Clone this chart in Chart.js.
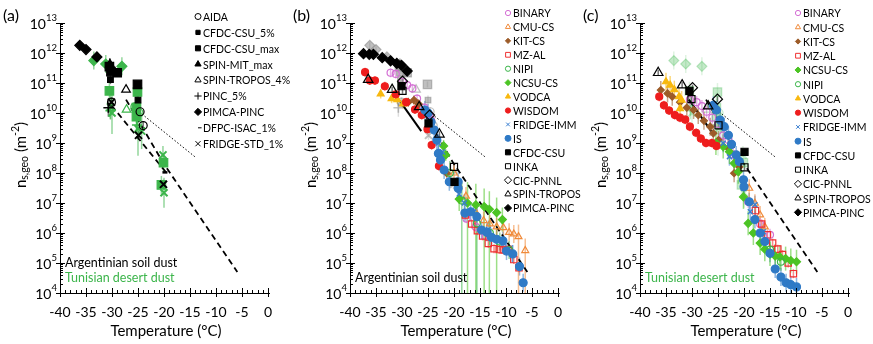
<!DOCTYPE html>
<html>
<head>
<meta charset="utf-8">
<script src="https://cdn.jsdelivr.net/npm/chart.js@4.4.1/dist/chart.umd.min.js"></script>
<style>
  body { margin: 0; background: #fff; }
  canvas { position: absolute; top: 0; }
</style>
</head>
<body>
<canvas id="ca" style="left:0" width="300" height="344"></canvas>
<canvas id="cb" style="left:290px" width="300" height="344"></canvas>
<canvas id="cc" style="left:580px" width="293" height="344"></canvas>
<script>
const FONT = 'Lato, "Open Sans", sans-serif';
const X_TICKS = [-40, -35, -30, -25, -20, -15, -10, -5, 0];
const Y_EXP = [4, 5, 6, 7, 8, 9, 10, 11, 12, 13];

// reference lines (T in degC, ns in m-2)
const DASH_T = [-27.3, -20.1, -5.9];
const DASH_N = [2.8e10, 2.1e8, 5.0e4];
const DOT_T = [-25.3, -13.8];
const DOT_N = [1.3e10, 3.2e8];
const FITA_T = [-30.1, -19.5];
const FITA_N = [1.8e10, 1.0e8];
const FITBC_T = [-30.6, -26.3];
const FITBC_N = [2.8e10, 2.5e9];

// panel (a) - Argentinian soil dust (black)
const A_AIDA_T = [-30.1, -24.6, -24.0];
const A_AIDA_N = [2.3e10, 1.1e10, 3.8e9];
const A_CFDC5_T = [-30.3, -25.0];
const A_CFDC5_N = [1.3e11, 2.7e10];
const A_CFDCMAX_T = [-30.5, -30.2, -29.0, -25.1];
const A_CFDCMAX_N = [3.5e11, 2.4e11, 2.2e11, 9.0e10];
const A_SPINMIT_T = [-30.4];
const A_SPINMIT_N = [4.2e11];
const A_SPINTR_T = [-27.3];
const A_SPINTR_N = [6.0e10];
const A_PINC_T = [-30.7];
const A_PINC_N = [1.5e10];
const A_PIMCA_T = [-36.2, -35.0, -32.9];
const A_PIMCA_N = [1.8e12, 1.3e12, 7.4e11];
const A_DFPC_T = [-20.3];
const A_DFPC_N = [1.05e8];
const A_FRIDGE_T = [-30.1, -24.9, -20.1];
const A_FRIDGE_N = [2.3e10, 1.8e9, 4.2e7];

// panel (a) - Tunisian desert dust (green)
const T_AIDA_T = [-25.6, -24.8];
const T_AIDA_N = [1.6e10, 1.0e10];
const T_CFDC_T = [-30.5, -25.1, -25.3, -25.3, -20.1, -20.5];
const T_CFDC_N = [5.5e10, 5.0e10, 1.5e10, 7.5e9, 2.2e8, 4.0e7];
const T_SPINTR_T = [-27.2];
const T_SPINTR_N = [1.3e10];
const T_PINC_T = [-30.3, -25.2];
const T_PINC_N = [1.2e10, 4.0e9];
const T_PIMCA_T = [-33.5, -31.2, -28.1];
const T_PIMCA_N = [5.6e11, 4.3e11, 3.6e11];
const T_FRIDGE_T = [-30.0, -30.3, -25.0, -24.3, -20.2, -20.0];
const T_FRIDGE_N = [1.0e10, 1.6e10, 3.0e9, 2.5e9, 4.0e8, 2.2e7];

// panel (b) - Argentinian soil dust
const B_BINARY_T = [-32.2, -31.2, -29.9, -29.0, -28.0, -27.1, -25.7, -24.7, -24.4, -17.6, -15.8, -13.9];
const B_BINARY_N = [2.2e11, 2.0e11, 1.1e11, 8.5e10, 6.6e10, 3.0e10, 1.5e10, 8.5e9, 5.8e9, 3.0e6, 1.6e6, 8.0e5];
const B_CMU_T = [-20.0, -19.2, -17.7, -15.8, -14.3, -13.1, -11.8, -10.5, -9.4, -8.5, -7.6, -6.3];
const B_CMU_N = [1.0e8, 4.2e7, 1.7e7, 4.8e6, 2.6e6, 2.0e6, 1.6e6, 1.5e6, 1.05e6, 9.3e5, 7.6e5, 2.6e5];
const B_KIT_T = [-28.8, -27.7, -26.8, -21.4];
const B_KIT_N = [2.3e10, 2.7e10, 2.0e10, 9.8e7];
const B_MZ_T = [-17.8, -16.6, -15.5, -14.5, -13.4, -12.3, -11.3, -10.4, -9.6, -8.5, -7.5];
const B_MZ_N = [4.0e6, 2.0e6, 1.2e6, 8.0e5, 4.5e5, 3.0e5, 2.8e5, 2.7e5, 2.8e5, 1.3e5, 7.0e4];
const B_NIPI_T = [-20.8, -18.5, -15.6, -13.1, -11.2, -9.4];
const B_NIPI_N = [1.0e8, 1.2e7, 2.1e6, 1.0e6, 5.2e5, 2.7e5];
const B_NCSU_T = [-22.0, -21.6, -19.0, -17.4, -15.8, -14.2, -13.2, -11.8, -10.7];
const B_NCSU_N = [8.0e8, 4.0e8, 1.35e7, 1.0e7, 8.7e6, 7.6e6, 6.2e6, 4.8e6, 2.8e6];
const B_VODCA_T = [-34.1, -32.0, -30.9, -29.8];
const B_VODCA_N = [4.3e10, 3.0e10, 2.8e10, 2.0e10];
const B_WISDOM_T = [-37.1, -36.2, -35.2, -33.3, -31.2, -29.2, -27.5, -26.2, -25.1, -24.3, -22.9];
const B_WISDOM_N = [2.3e11, 1.2e11, 1.2e11, 7.8e10, 4.2e10, 2.3e10, 1.3e10, 8.5e9, 2.9e9, 8.5e8, 1.7e8];
const B_FRIDGE_T = [-23.0, -22.2, -19.0, -18.0, -16.2, -13.4, -10.5, -8.8];
const B_FRIDGE_N = [1.0e9, 5.0e8, 2.0e7, 1.0e7, 5.0e6, 1.3e6, 4.6e5, 2.0e5];
const B_IS_T = [-25.6, -25.0, -24.4, -23.8, -23.3, -23.0, -22.6, -21.9, -20.9, -19.2, -19.2, -17.9, -16.8, -15.6, -14.7, -13.7, -12.8, -11.8, -10.6, -9.9, -8.7, -7.4, -6.7];
const B_IS_N = [1.26e10, 1.0e10, 5.0e9, 2.7e9, 1.26e9, 4.5e8, 2.7e8, 1.26e8, 5.1e7, 5.1e7, 3.1e7, 4.6e6, 5.1e6, 3.5e6, 1.26e6, 1.05e6, 7.2e5, 6.2e5, 5.5e5, 2.5e5, 2.0e5, 7.6e4, 2.2e4];
const B_CFDC_T = [-30.1, -24.9, -19.9];
const B_CFDC_N = [7.8e10, 4.5e9, 5.1e7];
const B_INKA_T = [-29.9, -20.0];
const B_INKA_N = [5.5e10, 1.6e8];
const B_CIC_T = [-29.9, -24.7];
const B_CIC_N = [1.15e11, 8.5e9];
const B_SPIN_T = [-36.5, -31.9, -26.7, -22.8];
const B_SPIN_N = [1.3e11, 6.0e10, 1.6e10, 1.95e9];
const B_PIMCA_T = [-37.4, -36.3, -35.5, -33.8, -32.2, -31.0, -30.1, -29.0];
const B_PIMCA_N = [9.5e11, 9.0e11, 9.0e11, 7.0e11, 5.5e11, 4.5e11, 3.9e11, 2.5e11];

// panel (c) - Tunisian desert dust
const C_BINARY_T = [-30.4, -29.1, -28.1, -27.2, -26.1, -24.9, -24.0, -23.0, -22.1, -19.2, -16.9, -15.0];
const C_BINARY_N = [2.8e10, 2.3e10, 1.7e10, 1.1e10, 7.0e9, 4.3e9, 1.8e9, 1.26e9, 4.2e8, 1.1e7, 2.0e6, 8.7e5];
const C_CMU_T = [-19.0, -17.9, -16.9, -16.0];
const C_CMU_N = [3.1e7, 9.8e6, 4.0e6, 1.6e6];
const C_KIT_T = [-36.0, -34.7, -33.8, -32.3, -31.0, -29.7, -28.8, -27.7, -26.5, -25.9, -24.9, -23.0, -21.9, -20.9];
const C_KIT_N = [5.8e10, 4.5e10, 3.5e10, 2.3e10, 1.5e10, 1.26e10, 8.5e9, 5.5e9, 3.5e9, 2.1e9, 1.26e9, 6.6e8, 9.8e7, 1.6e8];
const C_MZ_T = [-17.8, -16.6, -15.5, -14.5, -13.5, -12.6, -11.5, -10.5];
const C_MZ_N = [5.6e6, 2.0e6, 8.7e5, 4.6e5, 2.9e5, 1.9e5, 1.0e5, 4.4e4];
const C_NCSU_T = [-25.4, -24.0, -22.8, -21.9, -21.1, -20.1, -19.2, -18.2, -16.9, -16.0, -15.0, -14.0, -13.1, -12.0, -11.0, -9.9];
const C_NCSU_N = [1.0e9, 7.6e8, 5.1e8, 2.1e8, 1.1e8, 1.6e7, 2.1e6, 1.0e6, 4.6e5, 2.9e5, 2.0e5, 1.7e5, 1.6e5, 1.4e5, 1.2e5, 1.1e5];
const C_NIPI_T = [-15.0, -12.9];
const C_NIPI_N = [2.8e5, 1.1e5];
const C_VODCA_T = [-35.0, -34.2, -33.4, -32.5, -32.0, -32.3];
const C_VODCA_N = [1.1e11, 8.5e10, 6.0e10, 3.5e10, 2.7e10, 1.4e10];
const C_WISDOM_T = [-36.3, -35.4, -34.4, -33.3, -32.3, -31.3, -30.4, -29.2, -28.3, -27.3, -26.2, -25.3];
const C_WISDOM_N = [3.5e10, 1.8e10, 1.2e10, 8.5e9, 7.0e9, 6.0e9, 3.5e9, 2.2e9, 1.4e9, 1.0e9, 1.0e9, 8.0e8];
const C_FRIDGE_T = [-24.0, -22.8, -20.1, -18.8, -17.9, -16.3];
const C_FRIDGE_N = [9.8e8, 3.5e8, 3.1e7, 5.1e6, 8.7e6, 1.1e6];
const C_IS_T = [-25.9, -25.3, -24.6, -23.8, -23.0, -22.4, -21.5, -20.9, -20.1, -20.0, -19.0, -17.9, -16.9, -16.0, -15.0, -14.0, -12.9, -11.9, -11.0, -9.9];
const C_IS_N = [1.8e10, 1.26e10, 5.8e9, 3.5e9, 1.8e9, 9.0e8, 4.0e8, 2.4e8, 5.9e7, 3.5e7, 1.1e7, 2.8e6, 1.0e6, 5.2e5, 2.1e5, 6.3e4, 3.4e4, 2.2e4, 1.9e4, 1.6e4];
const C_CFDC_T = [-30.5, -19.9];
const C_CFDC_N = [5.5e10, 5.1e8];
const C_INKA_T = [-30.1, -24.9, -19.9];
const C_INKA_N = [2.9e10, 3.9e9, 1.55e8];
const C_CIC_T = [-29.9, -25.1];
const C_CIC_N = [7.0e10, 2.9e10];
const C_SPIN_T = [-36.5, -31.9, -26.9];
const C_SPIN_N = [2.2e11, 8.5e10, 1.7e10];

const LEG_A = ['AIDA', 'CFDC-CSU_5%', 'CFDC-CSU_max', 'SPIN-MIT_max', 'SPIN-TROPOS_4%', 'PINC_5%', 'PIMCA-PINC', 'DFPC-ISAC_1%', 'FRIDGE-STD_1%'];
const LEG_B = ['BINARY', 'CMU-CS', 'KIT-CS', 'MZ-AL', 'NIPI', 'NCSU-CS', 'VODCA', 'WISDOM', 'FRIDGE-IMM', 'IS', 'CFDC-CSU', 'INKA', 'CIC-PNNL', 'SPIN-TROPOS', 'PIMCA-PINC'];
const LEG_C = ['BINARY', 'CMU-CS', 'KIT-CS', 'MZ-AL', 'NCSU-CS', 'NIPI', 'VODCA', 'WISDOM', 'FRIDGE-IMM', 'IS', 'CFDC-CSU', 'INKA', 'CIC-PNNL', 'SPIN-TROPOS', 'PIMCA-PINC'];

const GREEN = '#3cb54b';
const GRAY = 'rgba(130,130,130,0.5)';
const PALE = 'rgba(60,181,75,0.3)';

const STYLE = {
  'AIDA': { shape: 'circle', open: true, r: 4, c: '#000' },
  'CFDC-CSU_5%': { shape: 'rect', r: 4, c: '#000' },
  'CFDC-CSU_max': { shape: 'rect', r: 6, c: '#000' },
  'SPIN-MIT_max': { shape: 'triangle', r: 5, c: '#000' },
  'SPIN-TROPOS_4%': { shape: 'triangle', open: true, r: 5, c: '#000' },
  'PINC_5%': { shape: 'cross', r: 5, bw: 1.6, c: '#000' },
  'DFPC-ISAC_1%': { shape: 'dash', r: 5, bw: 2.5, c: '#000' },
  'FRIDGE-STD_1%': { shape: 'crossRot', r: 5, bw: 2, c: '#000' },
  'BINARY': { shape: 'circle', open: true, r: 3.5, c: '#d46fd4' },
  'CMU-CS': { shape: 'triangle', open: true, r: 4, c: '#f08a3a' },
  'KIT-CS': { shape: 'rectRot', r: 3.5, c: '#9c5b28' },
  'MZ-AL': { shape: 'rect', open: true, r: 4.5, c: '#ef3030' },
  'NIPI': { shape: 'circle', open: true, r: 3.5, c: GREEN },
  'NCSU-CS': { shape: 'rectRot', r: 4, c: '#4cc424' },
  'VODCA': { shape: 'triangle', r: 4, c: '#f8b80e' },
  'WISDOM': { shape: 'circle', r: 3.5, c: '#ee1d1d' },
  'FRIDGE-IMM': { shape: 'crossRot', r: 3.5, bw: 1.5, c: '#3a7fd0' },
  'IS': { shape: 'circle', r: 4, c: '#2f7ac6' },
  'CFDC-CSU': { shape: 'rect', r: 5, c: '#000' },
  'INKA': { shape: 'rect', open: true, r: 5, c: '#000' },
  'CIC-PNNL': { shape: 'rectRot', open: true, r: 5, c: '#000' },
  'SPIN-TROPOS': { shape: 'triangle', open: true, r: 5.5, c: '#000' },
  'PIMCA-PINC': { shape: 'rectRot', r: 5, c: '#000' }
};

function ser(name, T, N, err, color) {
  const st = STYLE[name];
  const c = color || st.c;
  return {
    label: name,
    data: T.map((t, i) => ({ x: t, y: N[i] })),
    pointStyle: st.shape,
    pointRadius: st.r,
    pointBorderWidth: st.bw || 1.2,
    pointBorderColor: c,
    pointBackgroundColor: st.open ? 'rgba(255,255,255,0)' : c,
    showLine: false,
    err: err,
    errColor: c
  };
}

function line(T, N, dash, width) {
  return {
    data: T.map((t, i) => ({ x: t, y: N[i] })),
    showLine: true, pointRadius: 0, borderColor: '#000',
    borderWidth: width, borderDash: dash, fill: false
  };
}

// Argentinian/Tunisian panel (a) series, reused faded in (b) and (c)
function argSeries(color) {
  return [
    ser('PIMCA-PINC', A_PIMCA_T, A_PIMCA_N, 0.1, color),
    ser('CFDC-CSU_max', A_CFDCMAX_T, A_CFDCMAX_N, 0.1, color),
    ser('CFDC-CSU_5%', A_CFDC5_T, A_CFDC5_N, 0.15, color),
    ser('SPIN-MIT_max', A_SPINMIT_T, A_SPINMIT_N, 0.2, color),
    ser('SPIN-TROPOS_4%', A_SPINTR_T, A_SPINTR_N, 0, color),
    ser('PINC_5%', A_PINC_T, A_PINC_N, 0.3, color),
    ser('AIDA', A_AIDA_T, A_AIDA_N, 0.15, color),
    ser('DFPC-ISAC_1%', A_DFPC_T, A_DFPC_N, 0, color),
    ser('FRIDGE-STD_1%', A_FRIDGE_T, A_FRIDGE_N, 0.15, color)
  ];
}
function tunSeries(color) {
  return [
    ser('PIMCA-PINC', T_PIMCA_T, T_PIMCA_N, 0.3, color),
    ser('CFDC-CSU_max', T_CFDC_T, T_CFDC_N, [0.3, 0.3, 0.5, 0.6, 0.3, 0.3], color),
    ser('SPIN-TROPOS_4%', T_SPINTR_T, T_SPINTR_N, 0, color),
    ser('PINC_5%', T_PINC_T, T_PINC_N, 0.3, color),
    ser('AIDA', T_AIDA_T, T_AIDA_N, 0.15, color),
    ser('FRIDGE-STD_1%', T_FRIDGE_T, T_FRIDGE_N, [0.7, 0.4, 0.9, 0.6, 0.3, 0.5], color)
  ];
}

function errAt(e, i) {
  if (e == null) return null;
  const v = Array.isArray(e) ? e[i] : e;
  if (v == null || v === 0) return null;
  return Array.isArray(v) ? v : [v, v];
}

const errorBars = {
  id: 'errorBars',
  beforeDatasetsDraw(chart) {
    const { ctx, chartArea: a, scales: { x, y } } = chart;
    ctx.save();
    ctx.beginPath();
    ctx.rect(a.left, a.top - 5, a.width, a.height + 5);
    ctx.clip();
    chart.data.datasets.forEach(ds => {
      if (ds.err == null) return;
      ctx.strokeStyle = ds.errColor;
      ctx.globalAlpha = 0.55;
      ctx.lineWidth = 1.5;
      ds.data.forEach((p, i) => {
        const e = errAt(ds.err, i);
        if (!e) return;
        const px = x.getPixelForValue(p.x);
        ctx.beginPath();
        ctx.moveTo(px, y.getPixelForValue(p.y / Math.pow(10, e[0])));
        ctx.lineTo(px, y.getPixelForValue(p.y * Math.pow(10, e[1])));
        ctx.stroke();
      });
    });
    ctx.restore();
  }
};

function frame(cfg) {
  return {
    id: 'frame',
    afterDraw(chart) {
      const { ctx, chartArea: a, scales: { x, y } } = chart;
      ctx.save();
      ctx.strokeStyle = '#000';
      ctx.fillStyle = '#000';
      ctx.lineWidth = 1;
      ctx.beginPath();
      ctx.moveTo(a.left + 0.5, a.top);
      ctx.lineTo(a.left + 0.5, a.bottom + 0.5);
      ctx.lineTo(a.right + 2, a.bottom + 0.5);
      ctx.stroke();
      // x ticks
      ctx.beginPath();
      for (let t = -40; t <= 0; t++) {
        const px = Math.round(x.getPixelForValue(t)) + 0.5;
        const major = t % 5 === 0;
        ctx.moveTo(px, a.bottom - (major ? 5 : 3));
        ctx.lineTo(px, a.bottom + (major ? 4 : 0));
      }
      // y ticks
      Y_EXP.forEach(e => {
        const py = Math.round(y.getPixelForValue(Math.pow(10, e))) + 0.5;
        ctx.moveTo(a.left - 4, py);
        ctx.lineTo(a.left + 5, py);
        if (e < 13) {
          for (let m = 2; m <= 9; m++) {
            const pm = Math.round(y.getPixelForValue(m * Math.pow(10, e))) + 0.5;
            ctx.moveTo(a.left, pm);
            ctx.lineTo(a.left + 3, pm);
          }
        }
      });
      ctx.stroke();
      ctx.textAlign = 'center';
      ctx.textBaseline = 'middle';
      ctx.font = '14px ' + FONT;
      X_TICKS.forEach(t => ctx.fillText(String(t), x.getPixelForValue(t), a.bottom + 19));
      Y_EXP.forEach(e => {
        const py = y.getPixelForValue(Math.pow(10, e));
        ctx.font = '9.5px ' + FONT;
        const ew = ctx.measureText(String(e)).width;
        ctx.textAlign = 'left';
        ctx.fillText(String(e), 57 - ew, py - 5);
        ctx.font = '14px ' + FONT;
        ctx.textAlign = 'right';
        ctx.fillText('10', 57 - ew, py + 1);
      });
      // axis titles
      ctx.textAlign = 'center';
      ctx.font = '15px ' + FONT;
      ctx.fillText('Temperature (\u00B0C)', (a.left + a.right) / 2 + 2, 331);
      ctx.save();
      ctx.translate(21, 155);
      ctx.rotate(-Math.PI / 2);
      ctx.textAlign = 'left';
      const parts = [['n', 15, 0], ['s,geo', 10.5, 4], [' (m', 15, 0], ['-2', 10.5, -5], [')', 15, 0]];
      let w = 0;
      parts.forEach(p => { ctx.font = p[1] + 'px ' + FONT; w += ctx.measureText(p[0]).width; });
      let cx = -w / 2;
      parts.forEach(p => {
        ctx.font = p[1] + 'px ' + FONT;
        ctx.fillText(p[0], cx, p[2]);
        cx += ctx.measureText(p[0]).width;
      });
      ctx.restore();
      // panel label
      ctx.font = '16px ' + FONT;
      ctx.textAlign = 'left';
      ctx.fillText(cfg.tag, 3, 16);
      // legend
      ctx.font = '10.5px ' + FONT;
      cfg.legend.forEach((name, i) => {
        const st = STYLE[name];
        const ly = cfg.legY + i * cfg.legStep;
        const c = cfg.legBlack ? '#000' : st.c;
        ctx.fillStyle = st.open ? '#fff' : c;
        ctx.strokeStyle = c;
        Chart.helpers.drawPoint(ctx, { pointStyle: st.shape, radius: Math.min(st.r * 0.75, 3.6), borderWidth: st.bw ? st.bw * 0.9 : 1.1, rotation: 0 }, cfg.legX, ly);
        ctx.fillStyle = '#000';
        ctx.fillText(name, cfg.legX + 5, ly + 1);
      });
      // annotations
      ctx.font = '12.5px ' + FONT;
      cfg.notes.forEach(n => {
        ctx.fillStyle = n.c;
        ctx.fillText(n.text, 65, n.y);
      });
      ctx.restore();
    }
  };
}

function makeChart(id, width, datasets, cfg) {
  return new Chart(document.getElementById(id), {
    type: 'scatter',
    data: { datasets: datasets },
    options: {
      responsive: false,
      animation: false,
      devicePixelRatio: 1,
      layout: { padding: { left: 60, right: width - 268, top: 23, bottom: 51 } },
      plugins: { legend: { display: false }, tooltip: { enabled: false } },
      scales: {
        x: { type: 'linear', min: -40, max: 0, display: false },
        y: { type: 'logarithmic', min: 1e4, max: 1e13, display: false }
      }
    },
    plugins: [errorBars, frame(cfg)]
  });
}

// panel (a)
makeChart('ca', 300, [
  ...argSeries(),
  ...tunSeries(GREEN),
  line(FITA_T, FITA_N, [6, 4], 1.8),
  line(DASH_T, DASH_N, [6, 4], 1.8),
  line(DOT_T, DOT_N, [1.5, 2], 1)
], {
  tag: '(a)', legend: LEG_A, legBlack: true, legX: 198, legY: 16.5, legStep: 15.9,
  notes: [{ text: 'Argentinian soil dust', y: 263, c: '#000' }, { text: 'Tunisian desert dust', y: 278, c: GREEN }]
});

// panel (b)
makeChart('cb', 300, [
  ser('PIMCA-PINC', B_PIMCA_T, B_PIMCA_N, 0.15),
  ser('SPIN-TROPOS', B_SPIN_T, B_SPIN_N, 0.1),
  ser('CIC-PNNL', B_CIC_T, B_CIC_N, 0.1),
  ser('INKA', B_INKA_T, B_INKA_N, 0.1),
  ser('CFDC-CSU', B_CFDC_T, B_CFDC_N, 0.1),
  ser('IS', B_IS_T, B_IS_N, 0.3),
  ser('FRIDGE-IMM', B_FRIDGE_T, B_FRIDGE_N, 0.3),
  ser('WISDOM', B_WISDOM_T, B_WISDOM_N, 0.15),
  ser('VODCA', B_VODCA_T, B_VODCA_N, 0.15),
  ser('NCSU-CS', B_NCSU_T, B_NCSU_N, [0.2, 0.2, [0.4, 0.5], [3.5, 0.7], [3.5, 0.7], [3.5, 0.6], [3.5, 0.6], [3.5, 0.5], 0.4]),
  ser('NIPI', B_NIPI_T, B_NIPI_N, [0.4, [3.5, 0.6], [3.5, 0.5], 0.4, 0.3, 0.3]),
  ser('MZ-AL', B_MZ_T, B_MZ_N, 0.15),
  ser('KIT-CS', B_KIT_T, B_KIT_N, 0.15),
  ser('CMU-CS', B_CMU_T, B_CMU_N, [0.3, 0.3, 0.3, 0.3, 0.3, 0.3, 0.3, 0.3, 0.3, 0.3, [2, 0.4], [2, 0.4]]),
  ser('BINARY', B_BINARY_T, B_BINARY_N, 0.15),
  ...argSeries(GRAY),
  line(FITBC_T, FITBC_N, [], 2),
  line(DASH_T, DASH_N, [6, 4], 1.8),
  line(DOT_T, DOT_N, [1.5, 2], 1)
], {
  tag: '(b)', legend: LEG_B, legBlack: false, legX: 218, legY: 13, legStep: 13.93,
  notes: [{ text: 'Argentinian soil dust', y: 278, c: '#000' }]
});

// panel (c)
makeChart('cc', 293, [
  ser('SPIN-TROPOS', C_SPIN_T, C_SPIN_N, 0.1),
  ser('CIC-PNNL', C_CIC_T, C_CIC_N, 0.1),
  ser('INKA', C_INKA_T, C_INKA_N, 0.1),
  ser('CFDC-CSU', C_CFDC_T, C_CFDC_N, 0.1),
  ser('IS', C_IS_T, C_IS_N, 0.3),
  ser('FRIDGE-IMM', C_FRIDGE_T, C_FRIDGE_N, 0.3),
  ser('WISDOM', C_WISDOM_T, C_WISDOM_N, 0.15),
  ser('VODCA', C_VODCA_T, C_VODCA_N, 0.3),
  ser('NIPI', C_NIPI_T, C_NIPI_N, 0.3),
  ser('NCSU-CS', C_NCSU_T, C_NCSU_N, 0.4),
  ser('MZ-AL', C_MZ_T, C_MZ_N, 0.15),
  ser('KIT-CS', C_KIT_T, C_KIT_N, 0.3),
  ser('CMU-CS', C_CMU_T, C_CMU_N, 0.3),
  ser('BINARY', C_BINARY_T, C_BINARY_N, 0.2),
  ...tunSeries(PALE),
  line(FITBC_T, FITBC_N, [], 2),
  line(DASH_T, DASH_N, [6, 4], 1.8),
  line(DOT_T, DOT_N, [1.5, 2], 1)
], {
  tag: '(c)', legend: LEG_C, legBlack: false, legX: 218, legY: 13, legStep: 14.24,
  notes: [{ text: 'Tunisian desert dust', y: 278, c: GREEN }]
});
</script>
</body>
</html>
